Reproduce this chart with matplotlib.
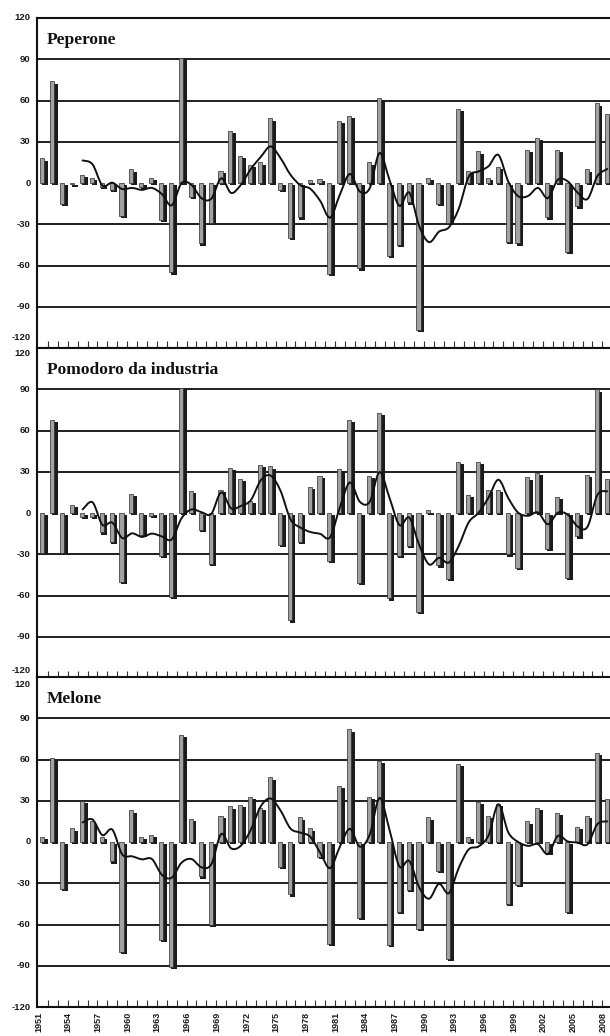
import numpy as np
import matplotlib
matplotlib.use("Agg")
import matplotlib.pyplot as plt
from matplotlib.path import Path
from matplotlib.patches import PathPatch

# ---------------- data ----------------
years = list(range(1951, 2009))
year_labels = list(range(1951, 2009, 3))
titles = ["Peperone", "Pomodoro da industria", "Melone"]
y_ticks = [-120, -90, -60, -30, 0, 30, 60, 90, 120]

peperone = [18, 74, -15, -1, 6, 4, -3, -5, -24, 10, -3, 4, -27, -65, 91, -10, -44, -29, 9, 38,
            20, 13, 15, 47, -5, -40, -25, 2, 3, -66, 45, 49, -62, 15, 62, -53, -45, -14, -107, 4,
            -15, -29, 54, 9, 23, 4, 12, -43, -44, 24, 33, -25, 24, -50, -17, 10, 58, 50]
pomodoro = [-29, 68, -29, 6, -3, -3, -14, -21, -50, 14, -16, -2, -31, -61, 91, 16, -12, -37, 17, 33,
            25, 9, 35, 34, -23, -78, -21, 19, 27, -35, 32, 68, -51, 27, 73, -62, -31, -24, -72, 2,
            -38, -48, 37, 13, 37, 17, 17, -30, -40, 26, 29, -26, 12, -47, -17, 28, 90, 25]
melone = [4, 61, -34, 10, 30, 15, 4, -14, -80, 23, 4, 5, -71, -91, 78, 17, -25, -60, 19, 26,
          27, 33, 25, 47, -18, -38, 18, 10, -11, -74, 41, 82, -55, 33, 59, -75, -51, -35, -63, 18,
          -21, -85, 57, 4, 29, 19, 28, -45, -31, 15, 25, -8, 21, -51, 11, 19, 65, 31]

# smoothed trend lines, starting 1955
peperone_trend = [16.4, 13.6, -1.8, 0.2, -4.4, -3.6, -5.0, -3.6, -8.0, -16.2, 0.0, -1.4, -11.0, -11.4,
                  3.4, -7.2, -1.2, 10.2, 19.0, 26.6, 18.0, 6.0, -1.6, -4.2, -13.0, -25.2, -8.2, 6.6,
                  -6.2, -3.8, 21.8, 2.2, -16.6, -7.0, -31.4, -43.0, -35.4, -32.2, -18.6, 4.6, 8.4,
                  12.2, 20.4, 1.0, -9.6, -9.4, -3.6, -11.0, 2.4, 1.2, -7.0, -11.6, 5.0, 10.2]
pomodoro_trend = [2.6, 7.8, -8.6, -7.0, -18.2, -14.8, -17.4, -15.0, -17.0, -19.2, -3.8, 2.6, 0.6, -0.6,
                  15.0, 3.4, 5.2, 9.4, 23.8, 27.2, 16.0, -4.6, -10.6, -13.8, -15.2, -17.6, 4.4, 22.2,
                  8.2, 8.2, 29.8, 11.0, -8.8, -3.4, -23.2, -37.4, -32.6, -36.0, -23.8, -6.8, 0.2,
                  11.2, 24.2, 10.8, 0.2, -2.0, 0.4, -8.2, 0.2, -1.2, -9.8, -10.0, 13.2, 15.8]
melone_trend = [14.2, 16.4, 5.0, 9.0, -9.0, -10.4, -12.6, -12.4, -23.8, -26.0, -15.0, -12.4, -18.4, -16.2,
                5.8, -4.6, -2.6, 9.0, 26.0, 31.6, 22.8, 9.8, 6.8, 3.8, -7.8, -19.0, -3.2, 9.6,
                -3.4, 5.4, 32.0, 8.8, -17.8, -13.8, -33.0, -41.2, -30.4, -37.2, -18.8, -5.4, -3.2,
                4.8, 27.4, 7.0, 0.0, -2.8, -1.6, -8.8, 4.4, 0.4, -0.4, -1.6, 13.0, 15.0]
trend_start = 1955

series = [peperone, pomodoro, melone]
trends = [peperone_trend, pomodoro_trend, melone_trend]

# ---------------- style ----------------
W, H, DPI = 610, 1036, 100
fig = plt.figure(figsize=(W / DPI, H / DPI), dpi=DPI)
fig.patch.set_facecolor("white")

left = 37 / W
width = 1 - left
panel_h = 330 / H
bottoms = [1 - 348 / H, 1 - 678 / H, 1 - 1007 / H]

sans = ["Liberation Sans", "DejaVu Sans"]
serif = ["Liberation Serif", "DejaVu Serif"]

# per panel offsets (points) for the edge tick labels
edge_offsets = [
    {120: (0, "center"), -120: (4, "bottom")},
    {120: (-1, "top"), -120: (2, "bottom")},
    {120: (-2, "top"), -120: (0, "center")},
]

x0 = 1951 - 6 / 9.9
x1 = 1951 + 567 / 9.9


def smooth_curve(ax, xs, ys):
    pts = np.column_stack([xs, ys]).astype(float)
    n = len(pts)
    verts = [pts[0]]
    codes = [Path.MOVETO]
    for i in range(n - 1):
        p0 = pts[i - 1] if i > 0 else pts[i]
        p1 = pts[i]
        p2 = pts[i + 1]
        p3 = pts[i + 2] if i + 2 < n else pts[i + 1]
        c1 = p1 + (p2 - p0) / 6.0
        c2 = p2 - (p3 - p1) / 6.0
        verts += [c1, c2, p2]
        codes += [Path.CURVE4] * 3
    patch = PathPatch(Path(verts, codes), facecolor="none", edgecolor="#111111",
                      linewidth=1.4, zorder=6, capstyle="round", joinstyle="round")
    ax.add_patch(patch)


for k in range(3):
    ax = fig.add_axes([left, bottoms[k], width, panel_h])
    ax.set_xlim(x0, x1)
    ax.set_ylim(-120, 120)
    ax.set_facecolor("white")

    yrs = np.array(years, dtype=float)
    vals = np.array(series[k], dtype=float)

    # gridlines
    for g in [-90, -60, -30, 30, 60, 90]:
        ax.axhline(g, color="#1e1e1e", linewidth=1.4, zorder=1)

    # 3-D looking bars: dark depth + light face
    ax.bar(yrs + 0.2, vals, width=0.6, bottom=-1.7, color="#1b1b1b", zorder=3, linewidth=0)
    ax.bar(yrs - 0.07, vals, width=0.42, color="#a2a2a2", edgecolor="#2a2a2a",
           linewidth=0.5, zorder=4)

    # trend line
    tx = np.arange(trend_start, trend_start + len(trends[k]))
    smooth_curve(ax, tx, trends[k])

    # spines
    ax.spines["right"].set_visible(False)
    for s in ["left", "bottom", "top"]:
        ax.spines[s].set_linewidth(1.5)
        ax.spines[s].set_color("#111111")
        ax.spines[s].set_zorder(7)

    # ticks
    ax.set_yticks([])
    ax.set_xticks([])
    ax.set_xticks([y + 0.5 for y in years[:-1]], minor=True)
    ax.tick_params(axis="x", which="minor", direction="in", length=5, width=0.8,
                   color="#333333", bottom=True, top=False)
    ax.tick_params(axis="x", which="major", length=0)

    # y labels (manual so edge labels can be nudged)
    for v in y_ticks:
        dy, va = edge_offsets[k].get(v, (0, "center"))
        ax.annotate(str(v), xy=(0, v), xycoords=("axes fraction", "data"),
                    xytext=(-4.5, dy), textcoords="offset points", ha="right", va=va,
                    fontsize=6.8, fontweight="bold", family=sans, color="#1a1a1a",
                    annotation_clip=False)

    # panel title
    ax.text(1951.4, 101, titles[k], ha="left", va="baseline", fontsize=12.5,
            fontweight="bold", family=serif, color="#111111", zorder=8)

    if k == 2:
        for yl in year_labels:
            ax.annotate(str(yl), xy=(yl - 0.45, 0), xycoords=("data", "axes fraction"),
                        xytext=(0, -3.5), textcoords="offset points", ha="center", va="top",
                        rotation=90, fontsize=6.5, fontweight="bold", family=sans,
                        color="#1a1a1a", annotation_clip=False)

fig.savefig("out.png", dpi=DPI, facecolor="white")
